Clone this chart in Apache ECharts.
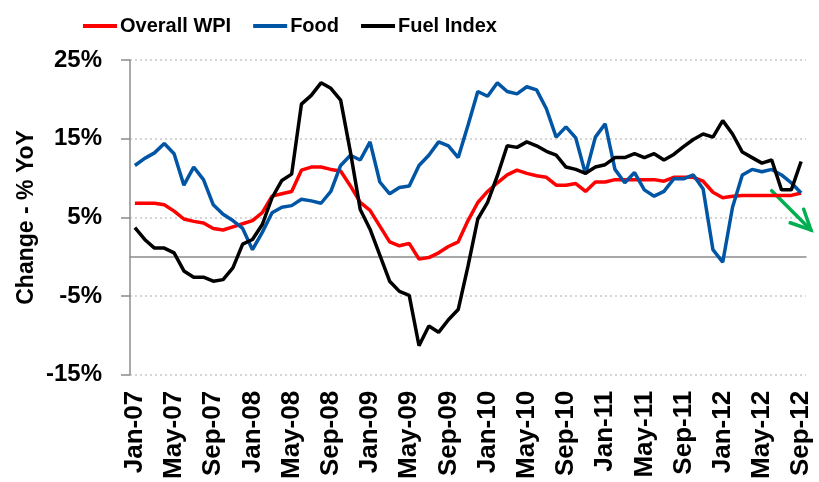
<!DOCTYPE html>
<html>
<head>
<meta charset="utf-8">
<script src="https://cdn.jsdelivr.net/npm/echarts@6/dist/echarts.min.js"></script>
<style>
  html, body { margin: 0; padding: 0; background: #fff; }
  #chart { width: 819px; height: 482px; }
</style>
</head>
<body>
<div id="chart"></div>
<script>
  // month labels Jan-07 .. Sep-12
  var months = ['Jan', 'Feb', 'Mar', 'Apr', 'May', 'Jun', 'Jul', 'Aug', 'Sep', 'Oct', 'Nov', 'Dec'];
  var years = ['07', '08', '09', '10', '11', '12'];
  var lastMonthCount = 9; // 2012 runs to Sep

  var yTicks = [-15, -5, 5, 15, 25];

  // YoY change, %
  var wpi = [
    6.8, 6.8, 6.8, 6.6, 5.8, 4.8, 4.5, 4.3, 3.6, 3.4, 3.8, 4.2,
    4.6, 5.6, 7.7, 8.0, 8.3, 11.0, 11.4, 11.4, 11.1, 10.9, 9.0, 6.9,
    5.9, 3.9, 1.9, 1.4, 1.7, -0.3, -0.1, 0.5, 1.3, 1.9, 4.6, 6.9,
    8.3, 9.4, 10.4, 11.0, 10.6, 10.3, 10.1, 9.1, 9.1, 9.3, 8.3, 9.5,
    9.5, 9.8, 9.8, 9.8, 9.8, 9.8, 9.6, 10.1, 10.1, 10.1, 9.6, 8.2,
    7.5, 7.7, 7.8, 7.8, 7.8, 7.8, 7.8, 7.8, 8.1
  ];
  var food = [
    11.6, 12.5, 13.2, 14.4, 13.1, 9.1, 11.4, 9.8, 6.6, 5.4, 4.6, 3.6,
    0.9, 3.1, 5.6, 6.3, 6.5, 7.3, 7.1, 6.8, 8.3, 11.6, 12.9, 12.3,
    14.6, 9.5, 8.0, 8.8, 9.0, 11.6, 12.9, 14.6, 14.1, 12.6, 16.7, 21.0,
    20.4, 22.1, 21.0, 20.7, 21.6, 21.2, 18.8, 15.2, 16.5, 15.1, 10.5, 15.2,
    16.9, 11.1, 9.4, 10.7, 8.5, 7.7, 8.3, 9.9, 9.9, 10.4, 8.6, 0.9,
    -0.7, 6.3, 10.4, 11.1, 10.8, 11.1, 10.4, 9.4, 8.1
  ];
  var fuel = [
    3.7, 2.2, 1.1, 1.1, 0.5, -1.8, -2.6, -2.6, -3.1, -2.9, -1.4, 1.6,
    2.2, 4.1, 7.5, 9.7, 10.5, 19.4, 20.5, 22.1, 21.4, 19.9, 13.3, 6.0,
    3.5, 0.2, -3.1, -4.4, -4.9, -11.3, -8.8, -9.6, -8.0, -6.7, -1.2, 4.8,
    6.9, 10.3, 14.1, 13.9, 14.6, 14.1, 13.4, 12.9, 11.4, 11.1, 10.6, 11.4,
    11.7, 12.6, 12.6, 13.1, 12.6, 13.1, 12.3, 13.0, 14.0, 14.9, 15.6, 15.2,
    17.3, 15.6, 13.3, 12.6, 11.9, 12.3, 8.5, 8.5, 12.1
  ];

  // trend arrow drawn near the end (category index, value)
  var arrowFrom = [64.8, 8.4];
  var arrowTo = [69.2, 3.4];

  var categories = [];
  years.forEach(function (y, yi) {
    var n = yi === years.length - 1 ? lastMonthCount : 12;
    for (var m = 0; m < n; m++) {
      categories.push(months[m] + '-' + y);
    }
  });

  var chart = echarts.init(document.getElementById('chart'));
  var boldFont = 'Liberation Sans';

  chart.setOption({
    animation: false,
    legend: {
      top: 11,
      left: 78,
      icon: 'rect',
      itemWidth: 34,
      itemHeight: 4,
      itemGap: 22,
      textStyle: { fontFamily: boldFont, fontWeight: 'bold', fontSize: 20, color: '#000', padding: [0, 0, 0, -2] },
      data: ['Overall WPI', 'Food', 'Fuel Index']
    },
    grid: { left: 130, right: 13, top: 60, bottom: 107 },
    xAxis: [{
      type: 'category',
      data: categories,
      boundaryGap: true,
      axisLine: { onZero: true, lineStyle: { color: '#8c8c8c', width: 1.5 } },
      axisTick: { interval: 3, length: 6, lineStyle: { color: '#8c8c8c', width: 1.5 } },
      axisLabel: { show: false },
      splitLine: { show: false }
    }, {
      type: 'category',
      data: categories,
      boundaryGap: true,
      position: 'bottom',
      axisLine: { show: false, onZero: false },
      axisTick: { show: false },
      axisLabel: {
        interval: 3, rotate: 90, margin: 16,
        fontFamily: boldFont, fontWeight: 'bold', fontSize: 26, color: '#000'
      }
    }],
    yAxis: {
      type: 'value',
      min: yTicks[0],
      max: yTicks[yTicks.length - 1],
      interval: 10,
      name: 'Change - % YoY',
      nameLocation: 'middle',
      nameRotate: 90,
      nameGap: 92,
      nameMoveOverlap: false,
      nameTextStyle: { fontFamily: boldFont, fontWeight: 'bold', fontSize: 23, color: '#000' },
      axisLine: { show: true, lineStyle: { color: '#8c8c8c', width: 1.5 } },
      axisTick: { show: true, length: 9, lineStyle: { color: '#8c8c8c', width: 1.5 } },
      axisLabel: {
        margin: 28,
        fontFamily: boldFont, fontWeight: 'bold', fontSize: 24, color: '#000',
        formatter: function (v) { return v + '%'; }
      },
      splitLine: { lineStyle: { color: '#c8c8c8', type: [2, 3], width: 1.5 } }
    },
    series: [{
      name: 'Overall WPI', type: 'line', data: wpi, showSymbol: false,
      itemStyle: { color: '#ff0000' }, lineStyle: { color: '#ff0000', width: 3.5 }
    }, {
      name: 'Food', type: 'line', data: food, showSymbol: false,
      itemStyle: { color: '#0055a5' }, lineStyle: { color: '#0055a5', width: 3.5 }
    }, {
      name: 'Fuel Index', type: 'line', data: fuel, showSymbol: false,
      itemStyle: { color: '#000' }, lineStyle: { color: '#000', width: 3.5 }
    }]
  });

  // green down arrow, placed through the grid's own scales
  var p0 = chart.convertToPixel({ xAxisIndex: 0, yAxisIndex: 0 }, arrowFrom);
  var p1 = chart.convertToPixel({ xAxisIndex: 0, yAxisIndex: 0 }, arrowTo);
  var ang = Math.atan2(p0[1] - p1[1], p0[0] - p1[0]);
  var headLen = 22, spread = 0.45;
  var arrowStyle = { stroke: '#00b050', lineWidth: 3.5, lineCap: 'round', fill: null };
  chart.setOption({
    graphic: [{
      type: 'line',
      shape: { x1: p0[0], y1: p0[1], x2: p1[0], y2: p1[1] },
      style: arrowStyle
    }, {
      type: 'polyline',
      shape: {
        points: [
          [p1[0] + headLen * Math.cos(ang + spread), p1[1] + headLen * Math.sin(ang + spread)],
          [p1[0], p1[1]],
          [p1[0] + headLen * Math.cos(ang - spread), p1[1] + headLen * Math.sin(ang - spread)]
        ]
      },
      style: arrowStyle
    }]
  });
</script>
</body>
</html>
